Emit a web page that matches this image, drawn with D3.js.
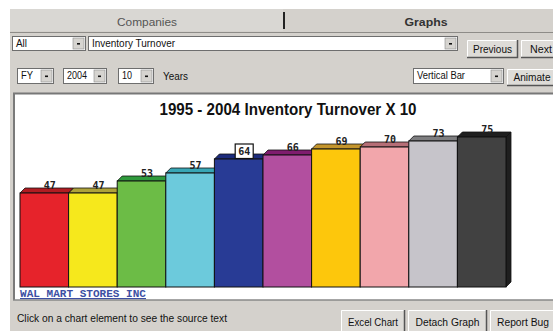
<!DOCTYPE html>
<html>
<head>
<meta charset="utf-8">
<script src="https://cdn.jsdelivr.net/npm/d3@7"></script>
<style>
  html, body { margin: 0; padding: 0; background: #fff; }
  svg { display: block; }
</style>
</head>
<body>
<script>
// Chart data
const years = ["1995", "1996", "1997", "1998", "1999", "2000", "2001", "2002", "2003", "2004"];
const turnover = [47, 47, 53, 57, 64, 66, 69, 70, 73, 75];
const frontColors = ["#e6232b", "#f6e81c", "#6cbc46", "#6ccadc", "#283b95", "#b24f9f", "#fdc70c", "#f2a6ab", "#c6c4ca", "#414141"];
const topColors   = ["#b11c22", "#aea23a", "#2f9a3c", "#38a7b6", "#1c2b7c", "#7f1c6e", "#c4952c", "#b66e76", "#7e7e80", "#1f1f1f"];
const highlighted = "1999";
const chartTitle = "1995 - 2004 Inventory Turnover X 10";
const companyName = "WAL MART STORES INC";

const W = 553, H = 331;
const ui = "#d4d1cc";
const svg = d3.select("body").append("svg").attr("width", W).attr("height", H);

// ---- window chrome ----
svg.append("rect").attr("x", 10).attr("y", 9).attr("width", W - 10).attr("height", H - 9).attr("fill", ui);
svg.append("rect").attr("x", 10).attr("y", 9).attr("width", 273).attr("height", 22).attr("fill", "#d9d7d3");
svg.append("line").attr("x1", 10).attr("x2", W).attr("y1", 32.5).attr("y2", 32.5).attr("stroke", "#8e8c88");
svg.append("line").attr("x1", 284).attr("x2", 284).attr("y1", 12).attr("y2", 29).attr("stroke", "#222").attr("stroke-width", 2);

function label(x, y, text, opts = {}) {
  const t = svg.append("text").attr("x", x).attr("y", y).text(text)
    .attr("font-family", "Liberation Sans, Arial, sans-serif")
    .attr("font-size", opts.size || 10)
    .attr("font-weight", opts.weight || "normal")
    .attr("fill", opts.fill || "#111")
    .attr("text-anchor", opts.anchor || "start");
  if (opts.len) t.attr("textLength", opts.len).attr("lengthAdjust", "spacingAndGlyphs");
  return t;
}

label(147, 26, "Companies", { size: 11.5, anchor: "middle", fill: "#555", len: 60 });
label(426, 26, "Graphs", { size: 11.5, weight: "bold", anchor: "middle", fill: "#333", len: 43 });

function button(x, y, w, h, text, len) {
  const g = svg.append("g");
  g.append("rect").attr("x", x).attr("y", y).attr("width", w).attr("height", h).attr("fill", "#dedcd8");
  g.append("path").attr("d", `M${x + 0.5},${y + h}V${y + 0.5}H${x + w}`).attr("stroke", "#fff").attr("fill", "none");
  g.append("path").attr("d", `M${x},${y + h - 0.5}H${x + w - 0.5}V${y}`).attr("stroke", "#555").attr("fill", "none").attr("stroke-width", 1.5);
  label(x + w / 2, y + h / 2 + 3.5, text, { anchor: "middle", size: 10, len: len });
}

function combo(x, y, w, h, text, len) {
  svg.append("rect").attr("x", x + 0.5).attr("y", y + 0.5).attr("width", w).attr("height", h).attr("fill", "#fff")
    .attr("stroke", "#6e6e6e");
  const bx = x + w - 12;
  svg.append("rect").attr("x", bx).attr("y", y + 2).attr("width", 11).attr("height", h - 3).attr("fill", "#d6d4d0")
    .attr("stroke", "#8a8a8a").attr("stroke-width", 0.6);
  svg.append("rect").attr("x", bx + 4).attr("y", y + h / 2).attr("width", 3).attr("height", 1.6).attr("fill", "#111");
  if (text) label(x + 4, y + h / 2 + 3.5, text, { size: 10, len: len });
}

combo(12, 36, 73, 14, "All", 11);
combo(88, 36, 369, 14, "Inventory Turnover", 83);
button(467, 40, 51, 18, "Previous", 39);
button(521, 40, 40, 18, "Next", 22);

combo(17, 68, 36, 15, "FY", 12);
combo(63, 68, 43, 15, "2004", 20);
combo(118, 68, 35, 15, "10", 10);
label(163, 80, "Years", { size: 10, len: 25 });
combo(413, 68, 90, 15, "Vertical Bar", 48);
button(507, 69, 50, 17, "Animate", 37);

// ---- chart panel ----
svg.append("rect").attr("x", 14).attr("y", 93).attr("width", W - 14).attr("height", 207).attr("fill", "#fff");
svg.append("line").attr("x1", 13).attr("x2", W).attr("y1", 93.5).attr("y2", 93.5).attr("stroke", "#777").attr("stroke-width", 2);
svg.append("line").attr("x1", 14).attr("x2", 14).attr("y1", 93).attr("y2", 300).attr("stroke", "#7a7a7a").attr("stroke-width", 2);
svg.append("line").attr("x1", 13).attr("x2", W).attr("y1", 300).attr("y2", 300).attr("stroke", "#888").attr("stroke-width", 1.5);

label(288, 115, chartTitle, { size: 16, weight: "bold", anchor: "middle", len: 257 });

const x = d3.scaleBand().domain(years).range([20, 506]).padding(0);
const y = d3.scaleLinear().domain([0, 100]).range([287, 87]);
const depth = 5;
const base = y(0);

const bars = svg.append("g").selectAll("g").data(years).join("g");
bars.each(function (yr, i) {
  const g = d3.select(this);
  const x0 = x(yr), x1 = x(yr) + x.bandwidth();
  const top = y(turnover[i]);
  // right side face
  g.append("path")
    .attr("d", `M${x1},${top}L${x1 + depth},${top - depth}L${x1 + depth},${base - depth}L${x1},${base}Z`)
    .attr("fill", topColors[i]).attr("stroke", "#111").attr("stroke-width", 0.8);
  // top face
  g.append("path")
    .attr("d", `M${x0},${top}L${x0 + depth},${top - depth}L${x1 + depth},${top - depth}L${x1},${top}Z`)
    .attr("fill", topColors[i]).attr("stroke", "#111").attr("stroke-width", 0.8);
  // front face
  g.append("rect").attr("x", x0).attr("y", top).attr("width", x.bandwidth()).attr("height", base - top)
    .attr("fill", frontColors[i]).attr("stroke", "#111").attr("stroke-width", 1);
});

// value labels
bars.each(function (yr, i) {
  const g = d3.select(this);
  const cx = x(yr) + x.bandwidth() / 2 + 5.5;
  const ty = y(turnover[i]) - 4.5;
  if (yr === highlighted) {
    g.append("rect").attr("x", cx - 9).attr("y", ty - 10.5).attr("width", 18).attr("height", 14.5)
      .attr("fill", "#fff").attr("stroke", "#111").attr("stroke-width", 1.2);
  }
  g.append("text").attr("x", cx).attr("y", ty).text(turnover[i])
    .attr("text-anchor", "middle")
    .attr("font-family", "DejaVu Sans Mono, monospace")
    .attr("font-weight", "bold").attr("font-size", 10).attr("fill", "#222");
});

// company link
const link = label(20, 297, companyName, { size: 11, weight: "bold", fill: "#3d4fa3", len: 126 });
link.attr("font-family", "Liberation Mono, Courier New, monospace").attr("text-decoration", "underline");

// ---- status bar ----
label(17, 322, "Click on a chart element to see the source text", { size: 10, len: 210 });
button(341, 310, 64, 24, "Excel Chart", 50);
button(408, 310, 79, 24, "Detach Graph", 64);
button(490, 310, 66, 24, "Report Bug", 52);
</script>
</body>
</html>
